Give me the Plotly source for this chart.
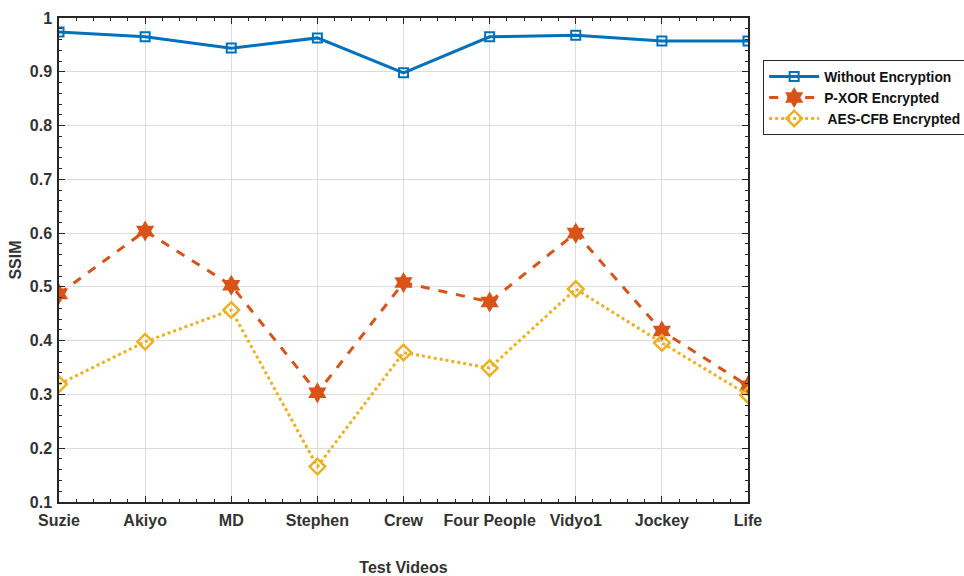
import plotly.graph_objects as go

videos = ["Suzie", "Akiyo", "MD", "Stephen", "Crew", "Four People", "Vidyo1", "Jockey", "Life"]
without_enc = [0.974, 0.965, 0.944, 0.963, 0.898, 0.965, 0.968, 0.957, 0.957]
pxor_enc = [0.487, 0.604, 0.503, 0.303, 0.508, 0.472, 0.600, 0.418, 0.316]
aes_cfb_enc = [0.319, 0.398, 0.457, 0.166, 0.378, 0.349, 0.496, 0.396, 0.299]
y_ticks = [0.1, 0.2, 0.3, 0.4, 0.5, 0.6, 0.7, 0.8, 0.9, 1.0]
y_tick_text = ["0.1", "0.2", "0.3", "0.4", "0.5", "0.6", "0.7", "0.8", "0.9", "1"]

x_pos = list(range(len(videos)))
FONT = "Liberation Sans, Arial, sans-serif"

fig = go.Figure()
fig.add_trace(go.Scatter(
    x=x_pos, y=without_enc, name="<b>Without Encryption</b>", mode="lines+markers",
    line=dict(color="#0072BD", width=3),
    marker=dict(symbol="square-open", size=9, color="#0072BD", line=dict(width=2)),
))
fig.add_trace(go.Scatter(
    x=x_pos, y=pxor_enc, name="<b>P-XOR Encrypted</b>", mode="lines+markers",
    line=dict(color="#D95319", width=3, dash="dash"),
    marker=dict(symbol="hexagram", size=16, color="#D95319", line=dict(width=0)),
))
fig.add_trace(go.Scatter(
    x=x_pos, y=aes_cfb_enc, name="<b> AES-CFB Encrypted</b>", mode="lines+markers",
    line=dict(color="#EDB120", width=3, dash="dot"),
    marker=dict(symbol="diamond-open", size=12, color="#EDB120", line=dict(width=2.5)),
))

axis_common = dict(
    showline=True, linecolor="#262626", linewidth=1.5, mirror="ticks",
    ticks="inside", ticklen=6, tickwidth=1.2, tickcolor="#262626",
    showgrid=True, gridcolor="#DCDCDC", gridwidth=1, zeroline=False,
    automargin=False,
    tickfont=dict(family=FONT, size=16, color="#333333", weight="bold"),
)

fig.update_xaxes(
    **axis_common, range=[0, len(videos) - 1], tickvals=x_pos, ticktext=videos,
    ticklabelstandoff=3,
    minor=dict(dtick=0.2, ticks="inside", ticklen=3, tickcolor="#262626", showgrid=False),
    title=dict(text="<b>Test Videos</b>", font=dict(family=FONT, size=16, color="#333333"), standoff=34),
)
fig.update_yaxes(
    **axis_common, range=[0.1, 1.0], tickvals=y_ticks, ticktext=y_tick_text,
    ticklabelstandoff=2,
    minor=dict(dtick=0.02, ticks="inside", ticklen=3, tickcolor="#262626", showgrid=False),
    title=dict(text="<b>SSIM</b>", font=dict(family=FONT, size=16, color="#333333"), standoff=4),
)

fig.update_layout(
    width=964, height=576,
    margin=dict(l=59, r=216, t=18, b=74, autoexpand=False),
    paper_bgcolor="white", plot_bgcolor="white",
    legend=dict(
        x=1.022, y=0.913, xanchor="left", yanchor="top",
        bordercolor="#262626", borderwidth=1, bgcolor="white",
        font=dict(family=FONT, size=13.8, color="#111111"),
        itemwidth=50, tracegroupgap=0,
    ),
)

fig.write_html("out.html")
